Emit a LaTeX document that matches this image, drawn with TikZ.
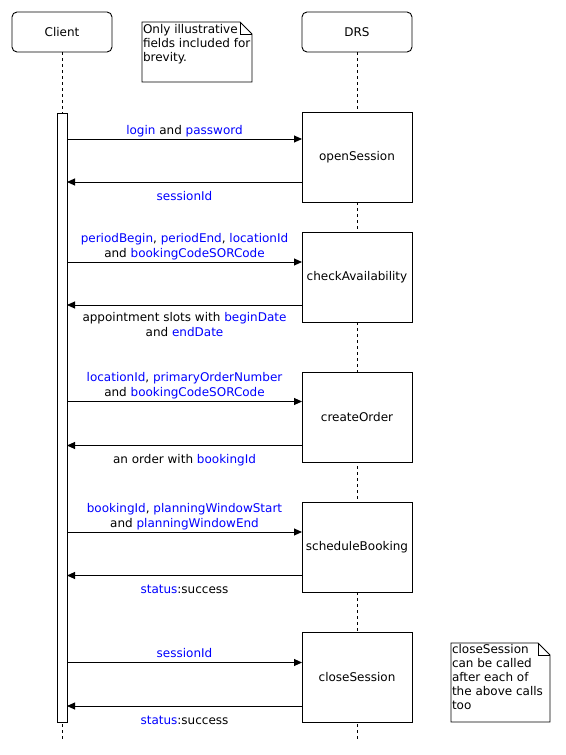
\documentclass[tikz,border=0pt]{standalone}
\usepackage{fontspec}
\setmainfont{DejaVu Sans}
\usetikzlibrary{positioning,arrows.meta}
\newcommand{\fieldname}[1]{\textcolor{blue}{#1}}

\begin{document}
\begin{tikzpicture}[
		x=1pt, y=-1pt,
		line width=0.9pt,
		every node/.style={
			inner sep=0pt,
			outer sep=0pt,
			font=\fontsize{12}{15}\selectfont
		},
		actor/.style={
			draw,
			rounded corners=5pt,
			minimum height=40pt,
			minimum width=100pt
		},
		call/.style={
			draw,
			fill=white,
			minimum height=90pt,
			minimum width=110pt
		},
		lifeline/.style={
			dash pattern=on 3pt off 3pt
		},
		msg/.style={
			-{Triangle[length=8pt,width=7pt]}
		},
		msglabel/.style={
			align=center,
			execute at begin node=\strut,
			execute at end node=\strut
		},
		notetext/.style={
			align=left,
			anchor=north west,
			font=\fontsize{12}{14}\selectfont,
			execute at begin node=\strut
		}]

		\fill[white] (0,0) rectangle (565,755);
		\useasboundingbox (0,0) rectangle (565,755);

		%participants
		\node[actor] at (62,32) (client) {Client};
		\node[actor, minimum width=110pt] at (357,32) (drs) {DRS};

		\coordinate (client end) at (62,740);
		\coordinate (drs end) at (357,740);
		\draw[lifeline] (client) -- (client end);
		\draw[lifeline] (drs) -- (drs end);

		\node[draw, fill=white, minimum width=10pt, minimum height=609pt] at (62,417.5) (act) {};

		%calls
		\node[call] at (357,157.5) (open) {openSession};
		\node[call, below=30pt of open] (check) {checkAvailability};
		\node[call, below=50pt of check] (create) {createOrder};
		\node[call, below=40pt of create] (schedule) {scheduleBooking};
		\node[call, below=40pt of schedule] (close) {closeSession};

		%messages
		\draw[msg] (act.east |- 0,139) -- node[msglabel, above=0.5pt] {\fieldname{login} and \fieldname{password}} (open.west |- 0,139);
		\draw[msg] (open.west |- 0,182) -- node[msglabel, below=7.5pt] {\fieldname{sessionId}} (act.east |- 0,182);

		\draw[msg] (act.east |- 0,262) -- node[msglabel, above=0.5pt] {\fieldname{periodBegin}, \fieldname{periodEnd}, \fieldname{locationId}\\and \fieldname{bookingCodeSORCode}} (check.west |- 0,262);
		\draw[msg] (check.west |- 0,305) -- node[msglabel, below=7.5pt] {appointment slots with \fieldname{beginDate}\\and \fieldname{endDate}} (act.east |- 0,305);

		\draw[msg] (act.east |- 0,401.5) -- node[msglabel, above=0.5pt] {\fieldname{locationId}, \fieldname{primaryOrderNumber}\\and \fieldname{bookingCodeSORCode}} (create.west |- 0,401.5);
		\draw[msg] (create.west |- 0,445.5) -- node[msglabel, below=7.5pt] {an order with \fieldname{bookingId}} (act.east |- 0,445.5);

		\draw[msg] (act.east |- 0,532) -- node[msglabel, above=0.5pt] {\fieldname{bookingId}, \fieldname{planningWindowStart}\\and \fieldname{planningWindowEnd}} (schedule.west |- 0,532);
		\draw[msg] (schedule.west |- 0,575.5) -- node[msglabel, below=7.5pt] {\fieldname{status}:success} (act.east |- 0,575.5);

		\draw[msg] (act.east |- 0,662.5) -- node[msglabel, above=0.5pt] {\fieldname{sessionId}} (close.west |- 0,662.5);
		\draw[msg] (close.west |- 0,706) -- node[msglabel, below=7.5pt] {\fieldname{status}:success} (act.east |- 0,706);

		%notes
		\draw (142,22) -- (240,22) -- (252,34) -- (252,82) -- (142,82) -- cycle;
		\draw (240,22) -- (240,34) -- (252,34);
		\node[notetext] at (143,24.5) (note1) {Only illustrative\\fields included for\\brevity.};

		\draw (451,643) -- (538,643) -- (550,655) -- (550,722) -- (451,722) -- cycle;
		\draw (538,643) -- (538,655) -- (550,655);
		\node[notetext] at (452,644.5) (note2) {closeSession\\can be called\\after each of\\the above calls\\too};

	\end{tikzpicture}
\end{document}
